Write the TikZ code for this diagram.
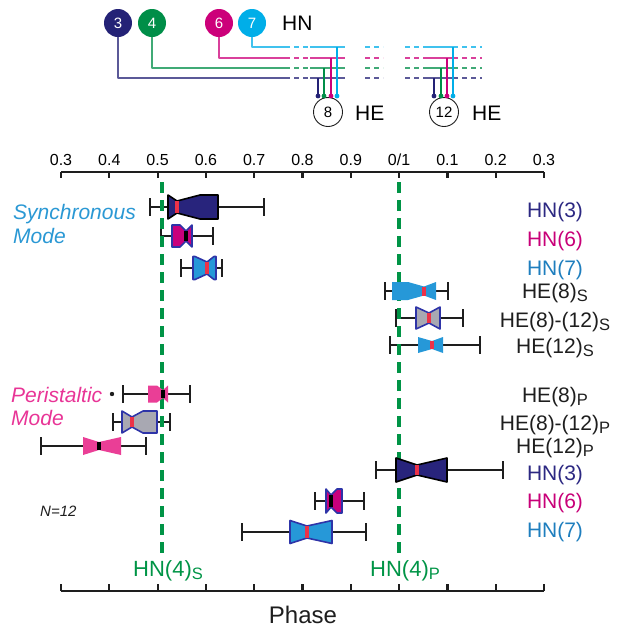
\documentclass[tikz,border=0pt]{standalone}
\usepackage{fontspec}
\setmainfont{Liberation Sans}
\usetikzlibrary{calc}

\definecolor{bnavy}{RGB}{40,36,124}
\definecolor{bmag}{RGB}{200,0,124}
\definecolor{bcyan}{RGB}{38,152,216}
\definecolor{bblue}{RGB}{46,52,168}
\definecolor{bgray}{RGB}{168,168,178}
\definecolor{bpink}{RGB}{234,62,150}
\definecolor{bred}{RGB}{236,50,72}
\definecolor{hngreen}{RGB}{0,148,70}
\definecolor{cnavy}{RGB}{36,34,118}
\definecolor{cgreen}{RGB}{0,142,72}
\definecolor{cmag}{RGB}{204,0,122}
\definecolor{ccyan}{RGB}{0,174,232}
\definecolor{tnavy}{RGB}{44,40,130}
\definecolor{tmag}{RGB}{200,0,120}
\definecolor{tblue}{RGB}{30,126,190}
\definecolor{tsync}{RGB}{42,152,212}
\definecolor{tperi}{RGB}{232,52,150}
\definecolor{tdark}{RGB}{30,30,30}

\newcommand{\fsz}[1]{\fontsize{#1}{#1}\selectfont}
\newcommand{\lowsub}[1]{\raisebox{-3.5pt}{\fsz{16.5}#1}}

\begin{document}
\begin{tikzpicture}[x=1pt,y=-1pt,line join=round,
  cell/.style={circle,minimum size=28,inner sep=0pt,text=white,font=\fsz{15}},
  gang/.style={circle,draw=tdark,line width=0.9,minimum size=29,inner sep=0pt,font=\fsz{15}},
  lbl/.style={anchor=base,inner sep=0pt,font=\fsz{21}},
  wire/.style={line width=1.1},
  dsh/.style={wire,dash pattern=on 5pt off 4pt},
  axis/.style={line width=2.2,tdark},
  whisk/.style={line width=2.5,tdark},
  hnfour/.style={hngreen,line width=4.5,dash pattern=on 11pt off 7pt}]
  \useasboundingbox (0,0) rectangle (624,635);

  % cells and ganglia
  \node[cell,fill=cnavy] (c3) at (118,23) {3};
  \node[cell,fill=cgreen] (c4) at (152,23) {4};
  \node[cell,fill=cmag] (c6) at (219,23) {6};
  \node[cell,fill=ccyan] (c7) at (252,23) {7};
  \node[lbl,anchor=base west] (hn) at (282,30) {HN};
  \node[gang] (g8) at (328,112) {8};
  \node[gang] (g12) at (444,112) {12};
  \node[lbl,anchor=base west] (he8) at (355,120) {HE};
  \node[lbl,anchor=base west] (he12) at (472,120) {HE};

  \foreach \c/\col/\yy/\xa/\xb in {c3/cnavy/78/318/434, c4/cgreen/68/324/441,
      c6/cmag/58/331/447, c7/ccyan/47/337/453}{
    \draw[wire,\col!75] (\c.south) |- (285,\yy);
    \draw[dsh,\col!75] (285,\yy) -- (310,\yy);
    \draw[wire,\col!75] (310,\yy) -- (345,\yy);
    \draw[dsh,\col!75] (365,\yy) -- (383,\yy) (405,\yy) -- (423,\yy);
    \draw[wire,\col!75] (423,\yy) -- (453,\yy);
    \draw[dsh,\col!75] (453,\yy) -- (482,\yy);
    \draw[wire,\col] (\xa,\yy) -- (\xa,96) (\xb,\yy) -- (\xb,96);
    \fill[\col] (\xa,96) circle (2.4) (\xb,96) circle (2.4);
  }

  % phase axes
  \draw[axis] (61,172) -- (544,172);
  \foreach \t [count=\i from 0] in {0.3,0.4,0.5,0.6,0.7,0.8,0.9,{0/1},0.1,0.2,0.3}{
    \draw[axis] ({61+48.3*\i},172) -- ++(0,6);
    \node[lbl,font=\fsz{16}] (t\i) at ({61+48.3*\i},165) {\t};
  }
  \draw[axis] (61,591) -- (544,591);
  \foreach \i in {0,...,10}
    \draw[axis] ({61+48.3*\i},591) -- ++(0,-7);
  \node[lbl,font=\fsz{24},tdark] (phase) at (303,623) {Phase};

  % y / whisker lo / q1 / notch lo / median / notch hi / q3 / whisker hi / half height / notch / fill / border / median colour
  \def\boxrows{207/150/168/168/177/200/218/264/12/6/bnavy/black/bred,
    236/161/172/180/186/192/192/213/11/5/bmag/bblue/black,
    268/181/193/195/207/214/216/222/11.5/6/bcyan/bblue/bred,
    291/385/392/408/424/436/436/448/9/4.5/bcyan/none/bred,
    318/396/416/416/429/440/440/463/11/5/bgray/bblue/bred,
    345/390/418/418/432/443/443/480/8/4/bcyan/none/bred,
    394/123/148/157/163/168/168/190/8.5/4/bpink/none/black,
    422/113/122/122/132/143/157/170/11/5/bgray/bblue/bred,
    446/41/83/83/99/121/121/146/9/4/bpink/none/black,
    470/376/396/396/417/447/447/503/12/5/bnavy/black/bred,
    501/315/326/326/331/337/342/364/12/6/bmag/bblue/black,
    532/242/290/290/307/332/332/366/11.5/6/bcyan/bblue/bred}

  \foreach \y/\wl/\qa/\nl/\md/\nh/\qb/\wh/\h/\n/\fc/\dc/\mc in \boxrows
    \draw[whisk] (\wl,\y) -- (\wh,\y) ({\wl},{\y-9}) -- ({\wl},{\y+9})
      ({\wh},{\y-9}) -- ({\wh},{\y+9});
  \fill[tdark] (112,394) circle (2.2);

  \draw[hnfour] (162,182) -- (162,554);
  \draw[hnfour] (399,182) -- (399,554);
  \node[lbl,anchor=base west,hngreen,font=\fsz{22}] (hn4s) at (133,576) {HN(4)\lowsub{S}};
  \node[lbl,anchor=base west,hngreen,font=\fsz{22}] (hn4p) at (370,576) {HN(4)\lowsub{P}};

  \foreach \y/\wl/\qa/\nl/\md/\nh/\qb/\wh/\h/\n/\fc/\dc/\mc in \boxrows{
    \filldraw[fill=\fc,draw=\dc,line width=1.6]
      ({\qa},{\y-\h}) -- ({\nl},{\y-\h}) -- ({\md},{\y-\n}) -- ({\nh},{\y-\h}) -- ({\qb},{\y-\h})
      -- ({\qb},{\y+\h}) -- ({\nh},{\y+\h}) -- ({\md},{\y+\n}) -- ({\nl},{\y+\h}) -- ({\qa},{\y+\h}) -- cycle;
    \draw[\mc,line width=3.5] ({\md},{\y-\n}) -- ({\md},{\y+\n});
  }

  % labels
  \node[lbl,anchor=base west,tsync,font={\fsz{21}\itshape}] (sync) at (13,219) {Synchronous};
  \node[lbl,anchor=base west,tsync,font={\fsz{21}\itshape}] (syncm) at (13,243) {Mode};
  \node[lbl,anchor=base west,tperi,font={\fsz{21}\itshape}] (peri) at (11,402) {Peristaltic};
  \node[lbl,anchor=base west,tperi,font={\fsz{21}\itshape}] (perim) at (11,425) {Mode};
  \node[lbl,anchor=base west,tdark,font={\fsz{15}\itshape}] (n12) at (40,516) {N=12};

  \foreach \yb/\txt/\col [count=\k] in {217/{HN(3)}/tnavy, 246/{HN(6)}/tmag, 275/{HN(7)}/tblue,
      298/{HE(8)\lowsub{S}}/tdark, 327/{HE(8)-(12)\lowsub{S}}/tdark, 353/{HE(12)\lowsub{S}}/tdark,
      402/{HE(8)\lowsub{P}}/tdark, 430/{HE(8)-(12)\lowsub{P}}/tdark, 453/{HE(12)\lowsub{P}}/tdark,
      480/{HN(3)}/tnavy, 508/{HN(6)}/tmag, 537/{HN(7)}/tblue}
    \node[lbl,\col] (r\k) at (555,\yb) {\txt};
\end{tikzpicture}
\end{document}
